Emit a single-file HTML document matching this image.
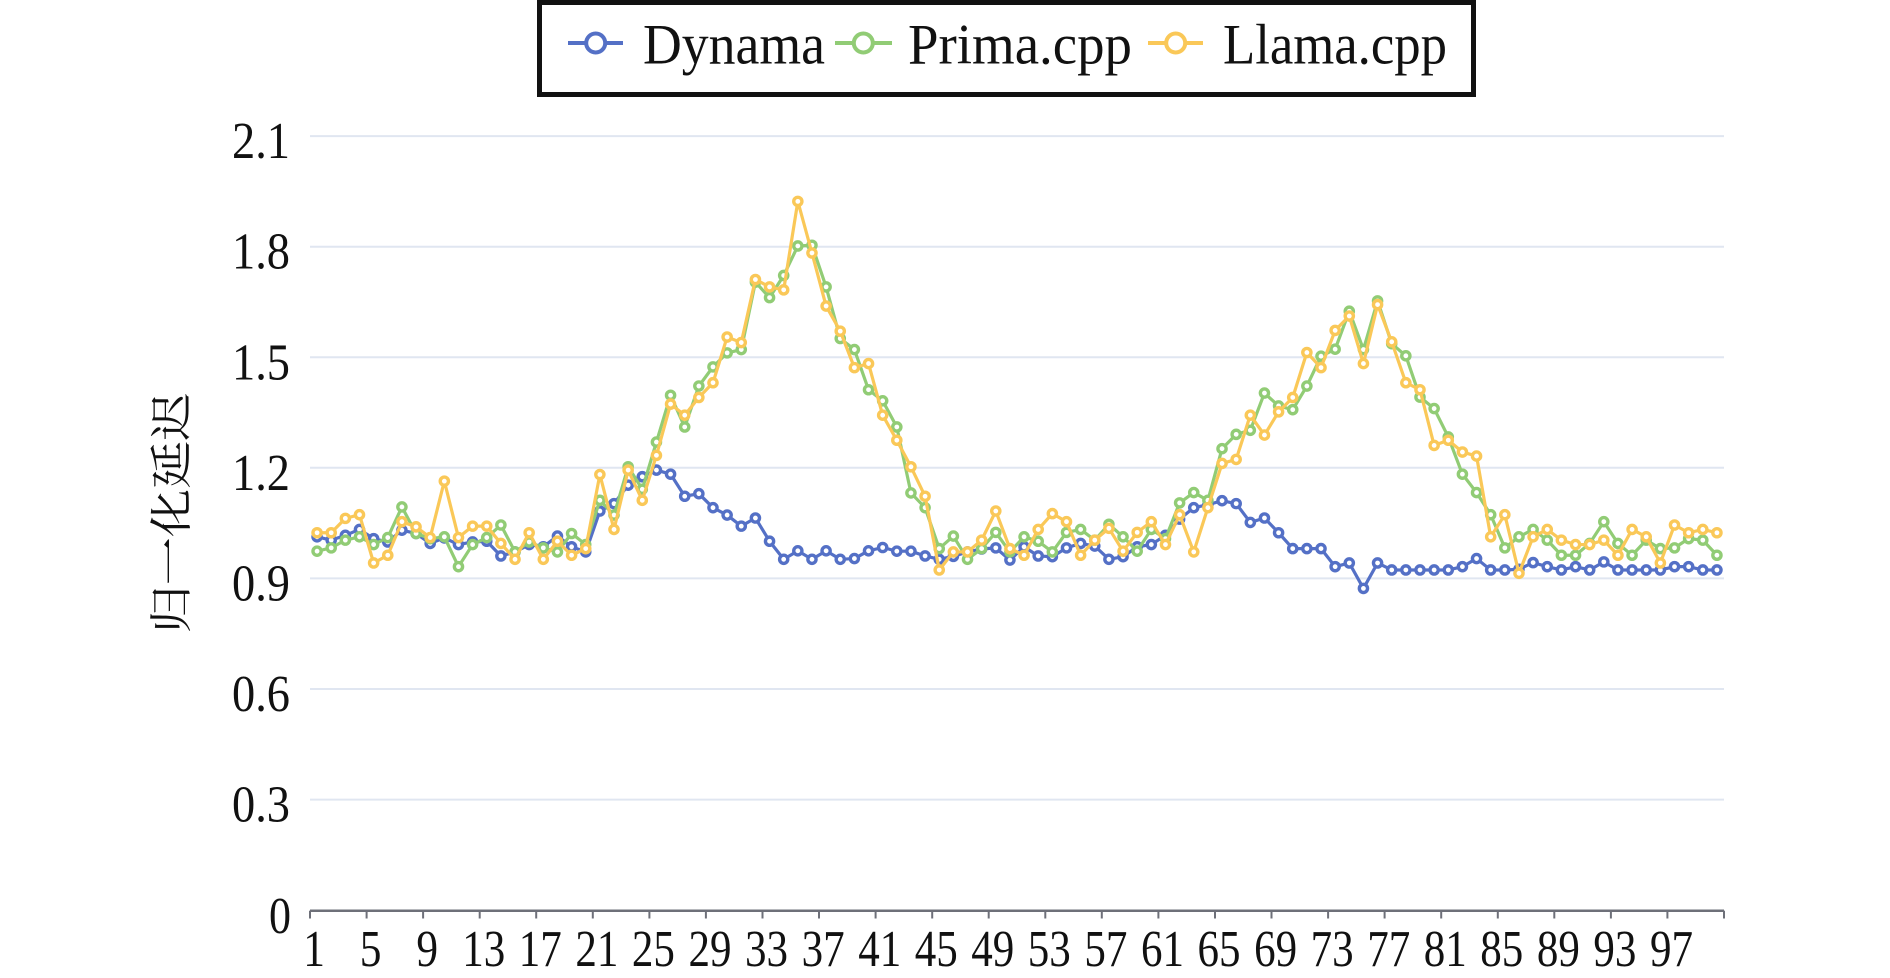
<!DOCTYPE html>
<html>
<head>
<meta charset="utf-8">
<style>
  html, body { margin: 0; padding: 0; background: #ffffff; }
  body { width: 1890px; height: 978px; overflow: hidden; }
  svg { display: block; }
  .lbl { font-family: "Liberation Serif", "DejaVu Serif", serif; fill: #111; }
</style>
</head>
<body>
<svg id="chart" width="1890" height="978" viewBox="0 0 1890 978" xmlns="http://www.w3.org/2000/svg">
  <rect x="0" y="0" width="1890" height="978" fill="#ffffff"/>

  <!-- grid lines -->
  <g stroke="#E0E6F1" stroke-width="2">
    <line x1="310" y1="136.1" x2="1724" y2="136.1"/>
    <line x1="310" y1="246.7" x2="1724" y2="246.7"/>
    <line x1="310" y1="357.3" x2="1724" y2="357.3"/>
    <line x1="310" y1="467.8" x2="1724" y2="467.8"/>
    <line x1="310" y1="578.4" x2="1724" y2="578.4"/>
    <line x1="310" y1="689.0" x2="1724" y2="689.0"/>
    <line x1="310" y1="799.6" x2="1724" y2="799.6"/>
  </g>

  <!-- x axis line -->
  <line x1="310" y1="910.7" x2="1724" y2="910.7" stroke="#6E7079" stroke-width="2.5"/>
  <g id="ticks" stroke="#6E7079" stroke-width="2"></g>

  <!-- y axis labels -->
  <g class="lbl" font-size="52" text-anchor="end">
    <text x="290" y="158" textLength="58" lengthAdjust="spacingAndGlyphs">2.1</text>
    <text x="290" y="268.7" textLength="58" lengthAdjust="spacingAndGlyphs">1.8</text>
    <text x="290" y="379.3" textLength="58" lengthAdjust="spacingAndGlyphs">1.5</text>
    <text x="290" y="489.8" textLength="58" lengthAdjust="spacingAndGlyphs">1.2</text>
    <text x="290" y="600.4" textLength="58" lengthAdjust="spacingAndGlyphs">0.9</text>
    <text x="290" y="711" textLength="58" lengthAdjust="spacingAndGlyphs">0.6</text>
    <text x="290" y="821.6" textLength="58" lengthAdjust="spacingAndGlyphs">0.3</text>
    <text x="291" y="933" textLength="22" lengthAdjust="spacingAndGlyphs">0</text>
  </g>

  <!-- x axis labels -->
  <g class="lbl" font-size="52" text-anchor="middle">
    <text x="314.1" y="966" textLength="21.7" lengthAdjust="spacingAndGlyphs">1</text>
    <text x="370.6" y="966" textLength="21.7" lengthAdjust="spacingAndGlyphs">5</text>
    <text x="427.2" y="966" textLength="21.7" lengthAdjust="spacingAndGlyphs">9</text>
    <text x="483.7" y="966" textLength="43" lengthAdjust="spacingAndGlyphs">13</text>
    <text x="540.3" y="966" textLength="43" lengthAdjust="spacingAndGlyphs">17</text>
    <text x="596.9" y="966" textLength="43" lengthAdjust="spacingAndGlyphs">21</text>
    <text x="653.4" y="966" textLength="43" lengthAdjust="spacingAndGlyphs">25</text>
    <text x="710.0" y="966" textLength="43" lengthAdjust="spacingAndGlyphs">29</text>
    <text x="766.5" y="966" textLength="43" lengthAdjust="spacingAndGlyphs">33</text>
    <text x="823.1" y="966" textLength="43" lengthAdjust="spacingAndGlyphs">37</text>
    <text x="879.7" y="966" textLength="43" lengthAdjust="spacingAndGlyphs">41</text>
    <text x="936.2" y="966" textLength="43" lengthAdjust="spacingAndGlyphs">45</text>
    <text x="992.8" y="966" textLength="43" lengthAdjust="spacingAndGlyphs">49</text>
    <text x="1049.3" y="966" textLength="43" lengthAdjust="spacingAndGlyphs">53</text>
    <text x="1105.9" y="966" textLength="43" lengthAdjust="spacingAndGlyphs">57</text>
    <text x="1162.5" y="966" textLength="43" lengthAdjust="spacingAndGlyphs">61</text>
    <text x="1219.0" y="966" textLength="43" lengthAdjust="spacingAndGlyphs">65</text>
    <text x="1275.6" y="966" textLength="43" lengthAdjust="spacingAndGlyphs">69</text>
    <text x="1332.1" y="966" textLength="43" lengthAdjust="spacingAndGlyphs">73</text>
    <text x="1388.7" y="966" textLength="43" lengthAdjust="spacingAndGlyphs">77</text>
    <text x="1445.3" y="966" textLength="43" lengthAdjust="spacingAndGlyphs">81</text>
    <text x="1501.8" y="966" textLength="43" lengthAdjust="spacingAndGlyphs">85</text>
    <text x="1558.4" y="966" textLength="43" lengthAdjust="spacingAndGlyphs">89</text>
    <text x="1614.9" y="966" textLength="43" lengthAdjust="spacingAndGlyphs">93</text>
    <text x="1671.5" y="966" textLength="43" lengthAdjust="spacingAndGlyphs">97</text>
  </g>

  <!-- y axis title -->
  <text transform="translate(172,513) rotate(-90) scale(1.12,1)" font-family="'Liberation Serif', 'Noto Serif CJK SC', 'Noto Sans CJK SC', serif" font-size="43" fill="#111" text-anchor="middle" dominant-baseline="central">归一化延迟</text>

  <!-- series -->
  <g id="series"></g>

  <!-- legend -->
  <rect x="539.5" y="2.5" width="934" height="92" fill="#ffffff" stroke="#111" stroke-width="5"/>
  <g stroke-width="4" fill="#ffffff">
    <line x1="568" y1="43" x2="623" y2="43" stroke="#5470c6"/>
    <circle cx="595.7" cy="43" r="9.5" stroke="#5470c6"/>
    <line x1="835" y1="43" x2="892" y2="43" stroke="#91cc75"/>
    <circle cx="863.3" cy="43" r="9.5" stroke="#91cc75"/>
    <line x1="1148" y1="43" x2="1203" y2="43" stroke="#fac858"/>
    <circle cx="1175.7" cy="43" r="9.5" stroke="#fac858"/>
  </g>
  <g class="lbl" font-size="57">
    <text x="643" y="63.5" textLength="182" lengthAdjust="spacingAndGlyphs">Dynama</text>
    <text x="908" y="63.5" textLength="224" lengthAdjust="spacingAndGlyphs">Prima.cpp</text>
    <text x="1223" y="63.5" textLength="224" lengthAdjust="spacingAndGlyphs">Llama.cpp</text>
  </g>
</svg>

<script>
(function(){
  var NS = "http://www.w3.org/2000/svg";
  var blue = [1.013,1.004,1.017,1.033,1.008,0.999,1.031,1.022,0.995,1.01,0.992,0.999,1.001,0.961,0.972,0.992,0.986,1.015,0.986,0.972,
    1.083,1.103,1.153,1.176,1.194,1.183,1.123,1.13,1.092,1.072,1.042,1.064,1.001,0.952,0.975,0.952,0.975,0.952,0.954,0.975,
    0.984,0.974,0.974,0.961,0.952,0.96,0.972,0.98,0.983,0.95,0.986,0.961,0.959,0.983,0.995,0.988,0.952,0.959,0.986,0.992,
    1.017,1.061,1.092,1.1,1.111,1.103,1.052,1.064,1.024,0.981,0.981,0.981,0.932,0.942,0.873,0.942,0.923,0.923,0.923,0.923,
    0.923,0.932,0.954,0.923,0.923,0.925,0.943,0.932,0.923,0.932,0.923,0.945,0.923,0.923,0.923,0.923,0.932,0.932,0.923,0.923];
  var green = [0.974,0.983,1.004,1.013,0.992,1.011,1.094,1.022,1.008,1.013,0.932,0.992,1.011,1.045,0.972,0.999,0.983,0.972,1.022,0.992,
    1.112,1.072,1.203,1.142,1.27,1.397,1.311,1.422,1.474,1.512,1.521,1.704,1.662,1.722,1.802,1.804,1.691,1.551,1.521,1.412,
    1.382,1.311,1.132,1.092,0.981,1.015,0.952,0.981,1.025,0.972,1.013,1.001,0.972,1.025,1.033,1.004,1.047,1.013,0.974,1.033,
    1.008,1.105,1.133,1.112,1.252,1.291,1.302,1.403,1.368,1.358,1.422,1.503,1.522,1.625,1.521,1.653,1.537,1.504,1.392,1.361,
    1.284,1.183,1.133,1.073,0.983,1.013,1.033,1.004,0.963,0.963,0.995,1.054,0.995,0.963,1.004,0.981,0.983,1.008,1.004,0.963];
  var yellow = [1.024,1.024,1.063,1.073,0.942,0.963,1.054,1.04,1.011,1.164,1.011,1.042,1.042,0.995,0.952,1.024,0.952,1.001,0.963,0.981,
    1.182,1.033,1.194,1.112,1.234,1.373,1.343,1.391,1.431,1.555,1.54,1.711,1.691,1.683,1.923,1.783,1.639,1.571,1.472,1.483,
    1.343,1.275,1.203,1.123,0.923,0.972,0.972,1.004,1.083,0.981,0.963,1.033,1.076,1.054,0.963,1.004,1.036,0.974,1.025,1.054,
    0.992,1.073,0.972,1.092,1.212,1.223,1.343,1.289,1.352,1.391,1.513,1.472,1.573,1.612,1.483,1.643,1.542,1.431,1.412,1.261,
    1.275,1.243,1.232,1.013,1.073,0.914,1.013,1.033,1.004,0.992,0.992,1.004,0.963,1.033,1.013,0.942,1.045,1.024,1.033,1.024];

  function px(i){ return 310 + (i + 0.5) * 14.14; }
  function py(v){ return 910.2 - v * 368.6; }

  var ticks = document.getElementById("ticks");
  for (var k = 0; k <= 25; k++) {
    var x = 310 + k * 4 * 14.14;
    var l = document.createElementNS(NS, "line");
    l.setAttribute("x1", x.toFixed(1)); l.setAttribute("x2", x.toFixed(1));
    l.setAttribute("y1", "910.7"); l.setAttribute("y2", "918.5");
    ticks.appendChild(l);
  }

  var g = document.getElementById("series");
  function draw(data, color){
    var d = "";
    for (var i = 0; i < data.length; i++) {
      d += (i ? "L" : "M") + px(i).toFixed(2) + "," + py(data[i]).toFixed(2);
    }
    var p = document.createElementNS(NS, "path");
    p.setAttribute("d", d);
    p.setAttribute("fill", "none");
    p.setAttribute("stroke", color);
    p.setAttribute("stroke-width", "3.2");
    p.setAttribute("stroke-linejoin", "round");
    g.appendChild(p);
    for (var j = 0; j < data.length; j++) {
      var c = document.createElementNS(NS, "circle");
      c.setAttribute("cx", px(j).toFixed(2));
      c.setAttribute("cy", py(data[j]).toFixed(2));
      c.setAttribute("r", "4.1");
      c.setAttribute("fill", "#ffffff");
      c.setAttribute("stroke", color);
      c.setAttribute("stroke-width", "3.4");
      g.appendChild(c);
    }
  }
  draw(blue, "#5470c6");
  draw(green, "#91cc75");
  draw(yellow, "#fac858");
})();
</script>
</body>
</html>
